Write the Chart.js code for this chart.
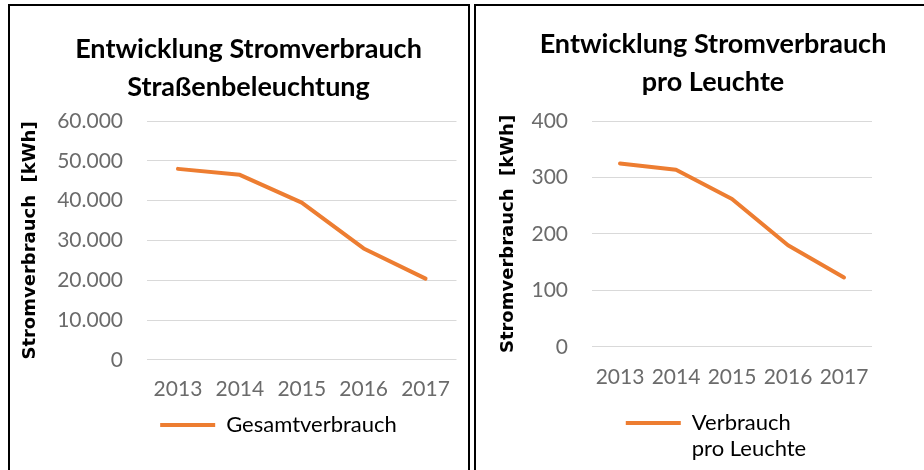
<!DOCTYPE html>
<html>
<head>
<meta charset="utf-8">
<script src="https://cdn.jsdelivr.net/npm/chart.js@4.4.1/dist/chart.umd.min.js"></script>
<style>
  html, body { margin: 0; padding: 0; background: #fff; overflow: hidden; width: 924px; height: 470px; }
  .panel { position: absolute; top: 4px; border: 2px solid #000; background: #fff; height: 490px; }
  #leftPanel { left: 8px; width: 458px; }
  #rightPanel { left: 474px; width: 470px; }
  canvas { display: block; }
</style>
</head>
<body>
<div class="panel" id="leftPanel"><canvas id="totalChart" width="458" height="464"></canvas></div>
<div class="panel" id="rightPanel"><canvas id="lampChart" width="448" height="464"></canvas></div>
<script>
const years = ["2013", "2014", "2015", "2016", "2017"];
const totalKwh = [48000, 46500, 39500, 28000, 20400];
const perLampKwh = [325, 314, 262, 180, 123];
const totalTicks = [0, 10000, 20000, 30000, 40000, 50000, 60000];
const perLampTicks = [0, 100, 200, 300, 400];

const orange = "#ED7D31";
const tickGray = "#6b6b6b";
const gridGray = "#d9d9d9";

// Excel doesn't center title/legend on the canvas, so nudge them sideways
// legendExtra: legend clips to its box, two-line label needs more room
const shiftBoxes = {
  id: "shiftBoxes",
  afterLayout(chart, args, opts) {
    if (chart.legend && opts.legendDx) {
      chart.legend.left += opts.legendDx;
      chart.legend.right += opts.legendDx;
    }
    if (chart.legend && opts.legendExtra) {
      chart.legend.bottom += opts.legendExtra;
      chart.legend.height += opts.legendExtra;
    }
    if (chart.titleBlock && opts.titleDx) {
      chart.titleBlock.left += opts.titleDx;
      chart.titleBlock.right += opts.titleDx;
    }
  }
};

function fmtDots(v) {
  if (v === 0) return "0";
  if (v >= 1000) return (v / 1000).toFixed(3);
  return String(v);
}

function makeChart(id, cfg) {
  const ctx = document.getElementById(id).getContext("2d");
  return new Chart(ctx, {
    type: "line",
    data: {
      labels: years,
      datasets: [{
        label: cfg.label,
        data: cfg.values,
        borderColor: orange,
        backgroundColor: orange,
        borderWidth: 4,
        borderJoinStyle: "round",
        borderCapStyle: "round",
        pointRadius: 0,
        tension: 0
      }]
    },
    options: {
      responsive: false,
      animation: false,
      layout: { padding: { top: 0, right: cfg.padRight, bottom: cfg.padBottom, left: 0 } },
      plugins: {
        tooltip: { enabled: false },
        title: {
          display: true,
          text: cfg.title,
          color: "#000",
          font: { family: "Lato", size: 27, weight: "bold", lineHeight: 1.41 },
          padding: cfg.titlePad
        },
        legend: {
          position: "bottom",
          labels: {
            color: "#000",
            font: { family: "Lato", size: 22 },
            boxWidth: 55,
            boxHeight: 4,
            padding: cfg.legendPad,
            generateLabels(chart) {
              const items = Chart.defaults.plugins.legend.labels.generateLabels(chart);
              items.forEach(it => { it.lineWidth = 0; it.fillStyle = orange; });
              return items;
            }
          }
        },
        shiftBoxes: { legendDx: cfg.legendDx, titleDx: cfg.titleDx, legendExtra: cfg.legendExtra }
      },
      scales: {
        x: {
          offset: true,
          afterFit(axis) { axis.height += cfg.xFitAdj; },
          grid: { display: false, drawTicks: false },
          border: { display: false },
          ticks: { color: tickGray, font: { family: "Lato", size: 21 }, padding: cfg.xPad, maxRotation: 0 }
        },
        y: {
          min: 0,
          max: cfg.max,
          afterBuildTicks(axis) { axis.ticks = cfg.ticks.map(v => ({ value: v })); },
          afterFit(axis) { axis.width = cfg.yWidth; },
          grid: { color: gridGray, lineWidth: 1, drawTicks: false },
          border: { display: false },
          ticks: { color: tickGray, font: { family: "Lato", size: 21 }, padding: 24, callback: v => fmtDots(v) },
          title: {
            display: true,
            text: "Stromverbrauch  [kWh]",
            color: "#000",
            font: { family: "DejaVu Sans", size: 18, weight: "bold", lineHeight: 1.2 },
            padding: { top: cfg.yTitlePad, bottom: 0 }
          }
        }
      }
    },
    plugins: [shiftBoxes]
  });
}

Promise.all([
  document.fonts.load("20px Lato"),
  document.fonts.load("bold 26px Lato"),
  document.fonts.load("bold 17px 'DejaVu Sans'")
]).catch(() => {}).then(() => {
  makeChart("totalChart", {
    label: "Gesamtverbrauch",
    values: totalKwh,
    ticks: totalTicks,
    max: 60000,
    title: ["Entwicklung Stromverbrauch", "Straßenbeleuchtung"],
    titlePad: { top: 24, bottom: 15 },
    titleDx: 15,
    padRight: 11,
    padBottom: 24,
    yWidth: 137,
    yTitlePad: 10,
    xPad: 17,
    xFitAdj: -19,
    legendPad: 14,
    legendDx: 45,
    legendExtra: 0
  });
  makeChart("lampChart", {
    label: ["Verbrauch", "pro Leuchte"],
    values: perLampKwh,
    ticks: perLampTicks,
    max: 400,
    title: ["Entwicklung Stromverbrauch", "pro Leuchte"],
    titlePad: { top: 19, bottom: 20 },
    titleDx: 39,
    padRight: 52,
    padBottom: 26,
    yWidth: 116,
    yTitlePad: 22,
    xPad: 18,
    xFitAdj: -17,
    legendPad: 21,
    legendDx: 94,
    legendExtra: 40
  });
});
</script>
</body>
</html>
